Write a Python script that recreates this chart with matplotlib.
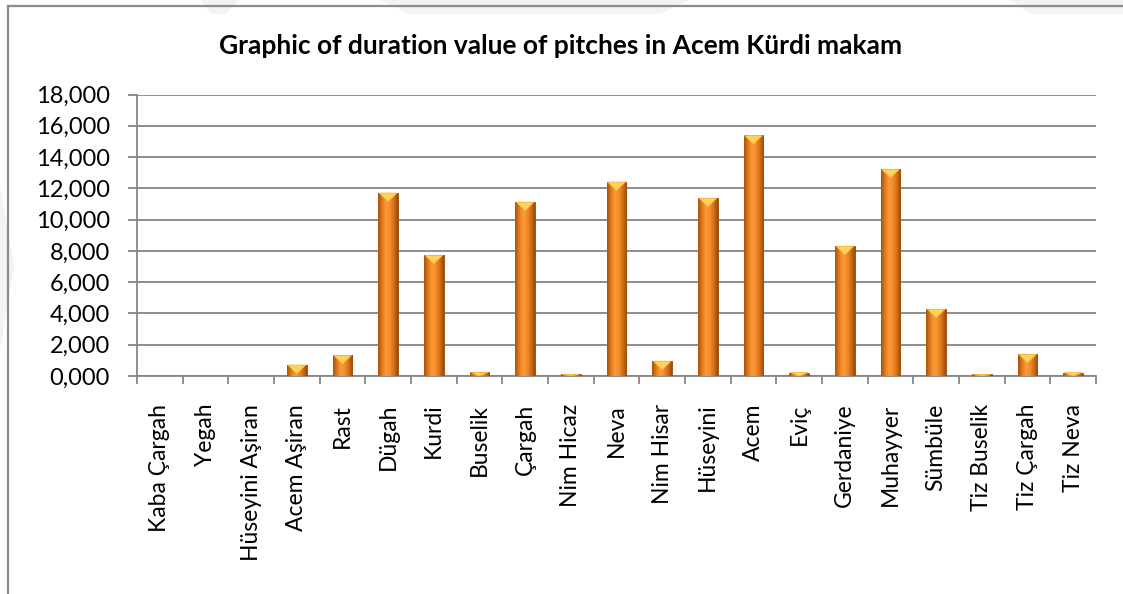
import numpy as np
import matplotlib.pyplot as plt
from matplotlib.colors import LinearSegmentedColormap
from matplotlib.patches import Polygon
from matplotlib.lines import Line2D
from matplotlib.ticker import FuncFormatter, FixedLocator

# data
pitches = ['Kaba Çargah', 'Yegah', 'Hüseyini Aşiran', 'Acem Aşiran', 'Rast', 'Dügah',
           'Kurdi', 'Buselik', 'Çargah', 'Nim Hicaz', 'Neva', 'Nim Hisar', 'Hüseyini',
           'Acem', 'Eviç', 'Gerdaniye', 'Muhayyer', 'Sümbüle', 'Tiz Buselik',
           'Tiz Çargah', 'Tiz Neva']
durations = [0.0, 0.02, 0.02, 0.70, 1.32, 11.70, 7.72, 0.24, 11.12, 0.11, 12.40, 0.95,
             11.37, 15.38, 0.22, 8.30, 13.22, 4.27, 0.10, 1.39, 0.22]
y_ticks = np.arange(0, 18.001, 2)
title = 'Graphic of duration value of pitches in Acem Kürdi makam'

plt.rcParams['font.family'] = ['Lato', 'DejaVu Sans']

fig = plt.figure(figsize=(11.23, 5.94), dpi=100)
W, H = 1123, 594

# faint watermark shapes in the background
for pts in ([(380, 0), (690, 0), (660, 14), (410, 14)],
            [(200, 0), (240, 0), (225, 14), (212, 14)],
            [(1010, 0), (1123, 0), (1123, 14), (1030, 14)],
            [(0, 185), (14, 265), (0, 350)]):
    fig.add_artist(Polygon([(px / W, 1 - py / H) for px, py in pts], closed=True,
                           transform=fig.transFigure, facecolor='#F3F3F3',
                           edgecolor='none', zorder=0))

# chart frame (left and top edges)
fig.add_artist(Line2D([8 / W, 8 / W], [0, 1 - 6 / H], color='#8C8C8C', lw=1.6,
                      transform=fig.transFigure))
fig.add_artist(Line2D([8 / W, 1], [1 - 6 / H, 1 - 6 / H], color='#8C8C8C', lw=1.6,
                      transform=fig.transFigure))

ax = fig.add_axes([137 / W, 1 - 376 / H, (1096 - 137) / W, (376 - 94.5) / H])
ax.patch.set_alpha(0)

x = np.arange(len(pitches))
bars = ax.bar(x, durations, width=0.43, color='#E8801F', edgecolor='#8E4708',
              linewidth=0.6, zorder=3)

cyl = LinearSegmentedColormap.from_list(
    'cyl', ['#A9520C', '#E07A1C', '#FF9A38', '#F48C2A', '#D2701A', '#9C4A0A'])
grad = np.linspace(0, 1, 64).reshape(1, -1)
for b in bars:
    x0, w, h = b.get_x(), b.get_width(), b.get_height()
    if h <= 0:
        continue
    if h < 0.05:
        b.set_facecolor('#F6CFA8')
        b.set_edgecolor('#F0B880')
        continue
    im = ax.imshow(grad, cmap=cyl, extent=[x0, x0 + w, 0, h], aspect='auto',
                   interpolation='bicubic', zorder=3.5)
    im.set_clip_path(b)
    d = min(h, 0.55)
    ax.add_patch(Polygon([[x0 + 0.02, h], [x0 + w - 0.02, h], [x0 + w / 2, h - d]],
                         closed=True, facecolor='#FFD35A', edgecolor='#F5B440',
                         lw=0.5, zorder=4))

ax.set_xlim(-0.5, len(pitches) - 0.5)
ax.set_ylim(0, 18)
ax.set_yticks(y_ticks)
ax.yaxis.set_major_formatter(FuncFormatter(lambda v, p: f'{v:.3f}'.replace('.', ',')))
ax.yaxis.grid(True, color='#868686', lw=1.3, zorder=0)
ax.set_axisbelow(True)

ax.set_xticks(x)
ax.set_xticklabels(pitches, rotation=90, va='top', ha='center')
ax.xaxis.set_minor_locator(FixedLocator(np.arange(-0.5, len(pitches), 1)))
ax.tick_params(axis='x', which='major', length=0, pad=20, labelsize=16.5)
ax.tick_params(axis='x', which='minor', length=6, width=1.3, color='#868686', direction='out')
ax.tick_params(axis='y', length=6.5, width=1.3, color='#868686', pad=13, labelsize=17)

for side in ('top', 'right'):
    ax.spines[side].set_visible(False)
for side in ('left', 'bottom'):
    ax.spines[side].set_color('#868686')
    ax.spines[side].set_linewidth(1.3)

fig.text(0.499, 1 - 46 / H, title, ha='center', va='center', fontsize=19,
         fontweight='bold')

fig.savefig('out.png', dpi=100)
